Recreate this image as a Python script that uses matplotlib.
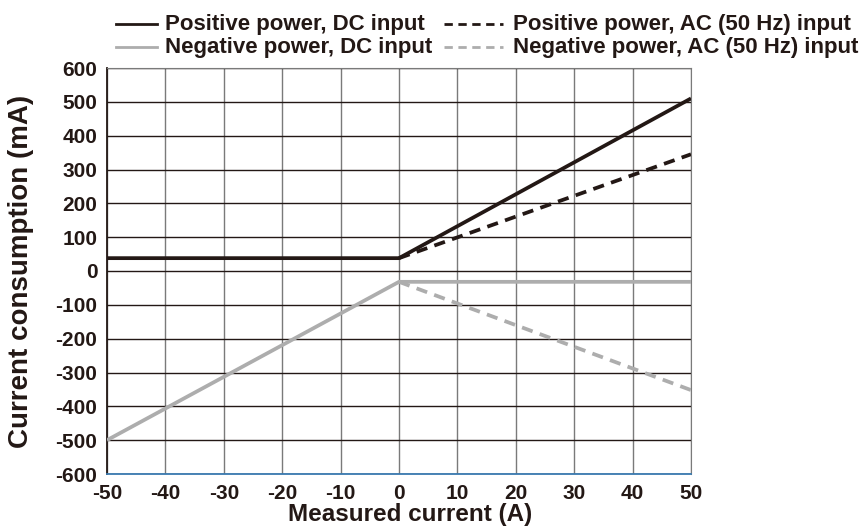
import matplotlib
matplotlib.use("Agg")
import matplotlib.pyplot as plt
from matplotlib.lines import Line2D

plt.rcParams['font.family'] = ['Liberation Sans', 'DejaVu Sans']
plt.rcParams['axes.unicode_minus'] = False

# Data
pos_dc_x = [-50, 0, 50]
pos_dc_y = [38, 38, 510]
pos_ac_x = [0, 50]
pos_ac_y = [38, 345]
neg_dc_x = [-50, 0, 50]
neg_dc_y = [-500, -32, -32]
neg_ac_x = [0, 50]
neg_ac_y = [-32, -352]

xticks = list(range(-50, 51, 10))
yticks = list(range(-600, 601, 100))
labels = ["Positive power, DC input", "Negative power, DC input",
          "Positive power, AC (50 Hz) input", "Negative power, AC (50 Hz) input"]

W, H = 867, 527
fig = plt.figure(figsize=(W / 100, H / 100), dpi=100)
ax = fig.add_axes([107 / W, 1 - 474 / H, (691 - 107) / W, (474 - 68) / H])

black = '#231815'
gray = '#adadad'
dash = (0, (3, 2))

for x in xticks:
    ax.axvline(x, color='#7a7a7a', lw=1.0, zorder=1)
for y in yticks:
    ax.axhline(y, color='#231815', lw=1.0, zorder=1)

ax.plot(pos_dc_x, pos_dc_y, color=black, lw=2.7, zorder=3, solid_capstyle='butt')
ax.plot(pos_ac_x, pos_ac_y, color=black, lw=2.7, ls=dash, zorder=3)
ax.plot(neg_dc_x, neg_dc_y, color=gray, lw=2.7, zorder=3, solid_capstyle='butt')
ax.plot(neg_ac_x, neg_ac_y, color=gray, lw=2.7, ls=dash, zorder=3)

ax.set_xlim(-50, 50)
ax.set_ylim(-600, 600)
ax.set_xticks(xticks)
ax.set_yticks(yticks)
ax.tick_params(length=0, labelsize=15)
ax.tick_params(axis='x', pad=7)
ax.tick_params(axis='y', pad=7)
for t in ax.get_xticklabels() + ax.get_yticklabels():
    t.set_fontweight('bold')
    t.set_color(black)

ax.spines['left'].set_color(black)
ax.spines['left'].set_linewidth(1.3)
ax.spines['right'].set_color('#7a7a7a')
ax.spines['top'].set_color('#7a7a7a')
ax.spines['bottom'].set_color('#3a7ab0')
ax.spines['bottom'].set_linewidth(1.3)

ax.set_xlabel('Measured current (A)', fontsize=17.5, fontweight='bold', color=black)
ax.xaxis.set_label_coords((410 - 107) / (691 - 107), -(503 - 474) / (474 - 68))
ax.set_ylabel('Current consumption (mA)', fontsize=20, fontweight='bold', color=black)
ax.yaxis.set_label_coords(-(107 - 34) / (691 - 107), 0.5)

# Legend (two columns, placed in figure pixel coordinates)
handles = [(black, '-'), (gray, '-'), (black, dash), (gray, dash)]
col_x = [(116, 157, 165), (444, 503, 513)]
row_y = [(24, 30), (47, 53)]
for i, (lab, (col, ls)) in enumerate(zip(labels, handles)):
    c = i // 2
    r = i % 2
    x0, x1, xt = col_x[c]
    yl, yb = row_y[r]
    fig.add_artist(Line2D([x0 / W, x1 / W], [1 - yl / H, 1 - yl / H],
                          transform=fig.transFigure, color=col, lw=2.0, ls=ls))
    fig.text(xt / W, 1 - yb / H, lab, fontsize=16, fontweight='bold',
             color=black, ha='left', va='baseline')

fig.savefig('out.png', dpi=100)
